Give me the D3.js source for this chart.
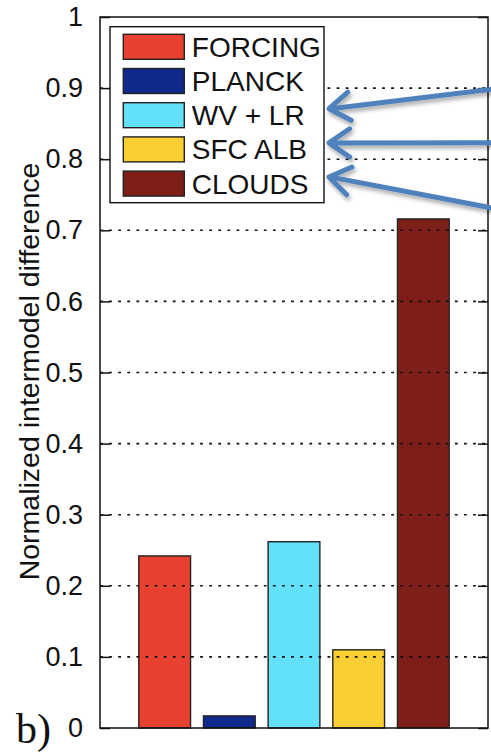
<!DOCTYPE html>
<html>
<head>
<meta charset="utf-8">
<script src="https://cdn.jsdelivr.net/npm/d3@7"></script>
<style>
  html, body { margin: 0; padding: 0; background: #fff; }
  svg { display: block; }
</style>
</head>
<body>
<svg id="chart" width="491" height="756"></svg>
<script>
// Feedback components and their normalized intermodel differences
const categories = ["FORCING", "PLANCK", "WV + LR", "SFC ALB", "CLOUDS"];
const values = [0.242, 0.017, 0.262, 0.110, 0.716];
const colors = ["#e8412f", "#10298c", "#63e1fb", "#f9cf33", "#7e1e18"];
const yTicks = [0, 0.1, 0.2, 0.3, 0.4, 0.5, 0.6, 0.7, 0.8, 0.9, 1];
const yTickLabels = ["0", "0.1", "0.2", "0.3", "0.4", "0.5", "0.6", "0.7", "0.8", "0.9", "1"];
// Callout arrows: legend entry they point at, and where each starts on the y scale
const arrowTargets = [2, 3, 4];
const arrowStartY = [0.9, 0.823, 0.729];

(function draw() {
  const svg = d3.select("#chart");
  const W = 491;
  const pL = 100, pR = 488, pT = 17, pB = 728;

  const x = d3.scaleLinear().domain([0, categories.length + 1]).range([pL, pR]);
  const y = d3.scaleLinear().domain([0, 1]).range([pB, pT]);
  const barW = (x(1) - x(0)) * 0.8;

  const font = "'Liberation Sans', Arial, Helvetica, sans-serif";

  const defs = svg.append("defs");
  const sh = defs.append("filter").attr("id", "shadow")
    .attr("x", "-20%").attr("y", "-50%").attr("width", "140%").attr("height", "200%");
  sh.append("feDropShadow").attr("dx", 1.5).attr("dy", 3).attr("stdDeviation", 2.2)
    .attr("flood-color", "#000").attr("flood-opacity", 0.35);

  // Bars
  svg.append("g").selectAll("rect").data(values).join("rect")
    .attr("x", (d, i) => x(i + 1) - barW / 2)
    .attr("y", d => y(d))
    .attr("width", barW)
    .attr("height", d => y(0) - y(d))
    .attr("fill", (d, i) => colors[i])
    .attr("stroke", "#222")
    .attr("stroke-width", 1.4);

  // Dotted grid on top of the bars
  svg.append("g").selectAll("line").data(yTicks.filter(t => t > 0 && t < 1)).join("line")
    .attr("x1", pL).attr("x2", pR)
    .attr("y1", d => y(d)).attr("y2", d => y(d))
    .attr("stroke", "#111").attr("stroke-width", 1.6)
    .attr("stroke-dasharray", "2.8,6.3");

  // Axis box with inward ticks on both sides
  const yAxisL = d3.axisLeft(y).tickValues(yTicks).tickSize(-10)
    .tickFormat((d, i) => yTickLabels[i]).tickPadding(17);
  const gL = svg.append("g").attr("transform", `translate(${pL},0)`).call(yAxisL);
  gL.select(".domain").remove();
  gL.selectAll(".tick line").attr("stroke", "#111").attr("stroke-width", 1.5);
  gL.selectAll(".tick text").attr("font-family", font).attr("font-size", 27).attr("fill", "#111");

  const yAxisR = d3.axisRight(y).tickValues(yTicks).tickSize(-10).tickFormat("");
  const gR = svg.append("g").attr("transform", `translate(${pR},0)`).call(yAxisR);
  gR.select(".domain").remove();
  gR.selectAll(".tick line").attr("stroke", "#111").attr("stroke-width", 1.5);

  svg.append("rect")
    .attr("x", pL).attr("y", pT)
    .attr("width", pR - pL).attr("height", pB - pT)
    .attr("fill", "none").attr("stroke", "#111").attr("stroke-width", 1.5);

  // Legend
  const lg = { x: 110, y: 26.7, w: 214, h: 176, sx: 123.3, sw: 61, sh: 25, row: 34.2, first: 34.3 };
  svg.append("rect")
    .attr("x", lg.x).attr("y", lg.y).attr("width", lg.w).attr("height", lg.h)
    .attr("fill", "#fff").attr("stroke", "#111").attr("stroke-width", 1.4);
  const items = svg.append("g").selectAll("g").data(categories).join("g")
    .attr("transform", (d, i) => `translate(0,${lg.first + i * lg.row})`);
  items.append("rect")
    .attr("x", lg.sx).attr("y", 0).attr("width", lg.sw).attr("height", lg.sh)
    .attr("fill", (d, i) => colors[i]).attr("stroke", "#222").attr("stroke-width", 1.4);
  items.append("text")
    .attr("x", lg.sx + lg.sw + 7.5).attr("y", lg.sh / 2 + 10)
    .attr("font-family", font).attr("font-size", 28).attr("fill", "#111")
    .text(d => d);

  // Y axis title
  svg.append("text")
    .attr("transform", `translate(38.5,${(pT + pB) / 2 - 1}) rotate(-90)`)
    .attr("text-anchor", "middle")
    .attr("font-family", font).attr("font-size", 28.5).attr("fill", "#111")
    .text("Normalized intermodel difference");

  // Panel tag
  svg.append("text")
    .attr("x", 16).attr("y", 743)
    .attr("font-family", "'Liberation Serif', 'Times New Roman', serif")
    .attr("font-size", 42).attr("fill", "#111")
    .text("b)");

  // Callout arrows pointing at legend entries
  const arrowColor = "#4f81bd";
  const ag = svg.append("g").attr("filter", "url(#shadow)");
  arrowTargets.forEach((k, j) => {
    const tip = [lg.x + lg.w + 5, lg.first + k * lg.row + lg.sh / 2 - 6.5];
    const tail = [W + 10, y(arrowStartY[j])];
    const ang = Math.atan2(tail[1] - tip[1], tail[0] - tip[0]);
    const len = 25, spread = 0.6;
    const p1 = [tip[0] + len * Math.cos(ang - spread), tip[1] + len * Math.sin(ang - spread)];
    const p2 = [tip[0] + len * Math.cos(ang + spread), tip[1] + len * Math.sin(ang + spread)];
    ag.append("path")
      .attr("d", `M${tail[0]},${tail[1]}L${tip[0] + 2},${tip[1]}`)
      .attr("stroke", arrowColor).attr("stroke-width", 5).attr("fill", "none");
    ag.append("path")
      .attr("d", `M${p1[0]},${p1[1]}L${tip[0]},${tip[1]}L${p2[0]},${p2[1]}`)
      .attr("stroke", arrowColor).attr("stroke-width", 5).attr("fill", "none")
      .attr("stroke-linecap", "round").attr("stroke-linejoin", "round");
  });
})();
</script>
</body>
</html>
